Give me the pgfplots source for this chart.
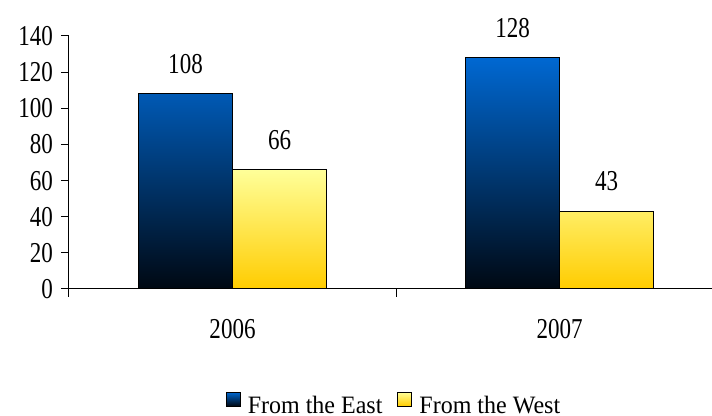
\documentclass[border=0pt]{standalone}
\usepackage{pgfplots}
\pgfplotsset{compat=1.18}
\usepackage{fontspec}
\setmainfont{Liberation Serif}
\newfontfamily\tickfont[FakeStretch=0.8]{Liberation Serif}
\newfontfamily\legfont[FakeStretch=0.96]{Liberation Serif}
\definecolor{bluetop}{RGB}{0,104,210}
\definecolor{bluebot}{RGB}{0,8,18}
\definecolor{yeltop}{RGB}{255,255,153}
\definecolor{yelbot}{RGB}{255,204,0}
\begin{document}
\begin{tikzpicture}
\useasboundingbox (-34.5pt,-63.5pt) rectangle (321.5pt,144.5pt);
\begin{axis}[
  at={(0,0)}, anchor=south west,
  scale only axis, width=321.5pt, height=126.5pt,
  xmin=-0.5, xmax=1.466, ymin=0, ymax=140,
  axis x line=bottom, axis y line=left,
  axis line style={-, black, line width=0.5pt},
  ytick={0,20,...,140},
  tick align=outside, major tick length=4pt,
  tick style={black, line width=0.5pt},
  xtick={-0.5,0.5}, xticklabels={},
  extra x ticks={0,1}, extra x tick labels={2006,2007},
  extra x tick style={major tick length=0pt, tick style={draw=none}},
  /pgf/number format/assume math mode=true,
  ticklabel style={font=\tickfont\fontsize{14.4pt}{16pt}\selectfont},
  yticklabel style={xshift=-0.5pt},
  xticklabel style={yshift=-11.5pt},
  ybar, bar width=0.2875,
  nodes near coords,
  nodes near coords style={yshift=6.5pt, font=\tickfont\fontsize{14.4pt}{16pt}\selectfont, text=black},
  legend columns=2,
  legend style={at={(0.507,-0.462)}, anchor=center, draw=none,
    font=\legfont\fontsize{12.5pt}{14pt}\selectfont,
    /tikz/every odd column/.append style={column sep=1.5pt},
    /tikz/every even column/.append style={column sep=5.5pt}},
  legend image code/.code={\draw[#1, draw=black, line width=0.5pt] (0pt,0pt) rectangle (7pt,7pt);},
]
\addplot[bar shift=-0.14375, draw=black, line width=0.6pt, top color=bluetop, bottom color=bluebot]
  coordinates {(0,108) (1,128)};
\addplot[bar shift=0.14375, draw=black, line width=0.6pt, top color=yeltop, bottom color=yelbot]
  coordinates {(0,66) (1,43)};
\legend{From the East, From the West}
\end{axis}
\end{tikzpicture}
\end{document}
